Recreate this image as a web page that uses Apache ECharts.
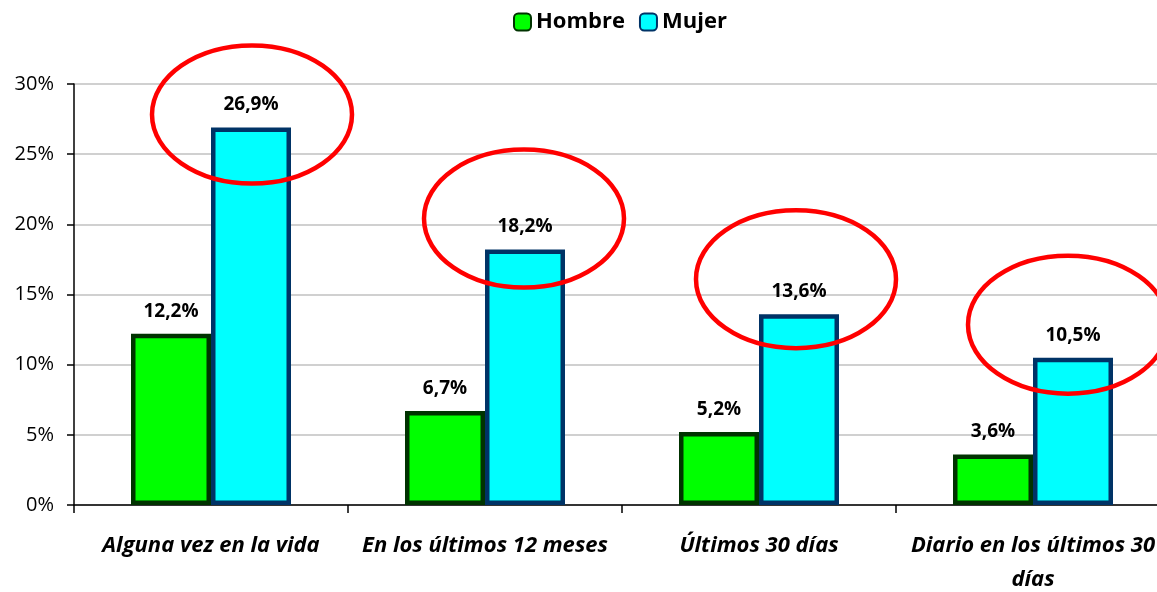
<!DOCTYPE html>
<html>
<head>
<meta charset="utf-8">
<script src="https://cdn.jsdelivr.net/npm/echarts@6/dist/echarts.min.js"></script>
<style>
  html, body { margin: 0; padding: 0; background: #fff; }
  #chart { width: 1157px; height: 592px; }
</style>
</head>
<body>
<div id="chart"></div>
<script>
var categories = ['Alguna vez en la vida', 'En los últimos 12 meses', 'Últimos 30 días', 'Diario en los últimos 30\ndías'];
var hombre = [12.2, 6.7, 5.2, 3.6];
var mujer = [26.9, 18.2, 13.6, 10.5];
var yTicks = { min: 0, max: 30, interval: 5 };

// hand-drawn red ellipses: offset of each centre from the top of the Mujer bar
var ellipseDx = [41, 39, 37, 35];
var ellipseDy = [-13, -31, -35, -33];

var font = '"Open Sans", "Noto Sans", sans-serif';

var chart = echarts.init(document.getElementById('chart'), null, { renderer: 'canvas' });

function pct(p) {
  return p.value.toFixed(1).replace('.', ',') + '%';
}

var option = {
  animation: false,
  textStyle: { fontFamily: font },
  legend: {
    top: 6,
    left: 508,
    itemWidth: 17,
    itemHeight: 17,
    itemGap: 14,
    textStyle: { fontSize: 22, fontWeight: 'bold', color: '#000', fontFamily: font },
    data: ['Hombre', 'Mujer']
  },
  grid: { left: 74, top: 84, bottom: 87, right: -13, outerBoundsMode: 'none' },
  xAxis: {
    type: 'category',
    data: categories,
    axisLine: { lineStyle: { color: '#000', width: 1.5 } },
    axisTick: { show: true, length: 8, lineStyle: { color: '#000', width: 1.5 } },
    axisLabel: {
      interval: 0,
      margin: 24,
      fontSize: 22,
      fontWeight: 'bold',
      fontStyle: 'italic',
      color: '#000',
      lineHeight: 34,
      fontFamily: font
    }
  },
  yAxis: {
    type: 'value',
    min: yTicks.min,
    max: yTicks.max,
    interval: yTicks.interval,
    axisLine: { show: true, lineStyle: { color: '#000', width: 1.5 } },
    axisTick: { show: true, length: 7, lineStyle: { color: '#000', width: 1.5 } },
    splitLine: { lineStyle: { color: '#c0c0c0', width: 1.5 } },
    axisLabel: { formatter: '{value}%', fontSize: 20, color: '#000', margin: 20, fontFamily: font }
  },
  series: [{
    name: 'Hombre',
    type: 'bar',
    data: hombre,
    barWidth: 80,
    barGap: '0%',
    itemStyle: { color: '#00ff00', borderColor: '#003300', borderWidth: 4.5 },
    label: {
      show: true, position: 'top', distance: 13, formatter: pct,
      fontSize: 19, fontWeight: 'bold', color: '#000', fontFamily: font
    }
  }, {
    name: 'Mujer',
    type: 'bar',
    data: mujer,
    barWidth: 80,
    barGap: '0%',
    itemStyle: { color: '#00ffff', borderColor: '#003366', borderWidth: 4.5 },
    label: {
      show: true, position: 'top', distance: 13, formatter: pct,
      fontSize: 19, fontWeight: 'bold', color: '#000', fontFamily: font
    }
  }]
};

chart.setOption(option);

var ellipses = mujer.map(function (v, i) {
  var top = chart.convertToPixel({ gridIndex: 0 }, [i, v]);
  return {
    type: 'ellipse',
    shape: { cx: top[0] + ellipseDx[i], cy: top[1] + ellipseDy[i], rx: 100, ry: 69 },
    style: { fill: null, stroke: '#ff0000', lineWidth: 4.5 },
    z: 10
  };
});
chart.setOption({ graphic: ellipses });
</script>
</body>
</html>
